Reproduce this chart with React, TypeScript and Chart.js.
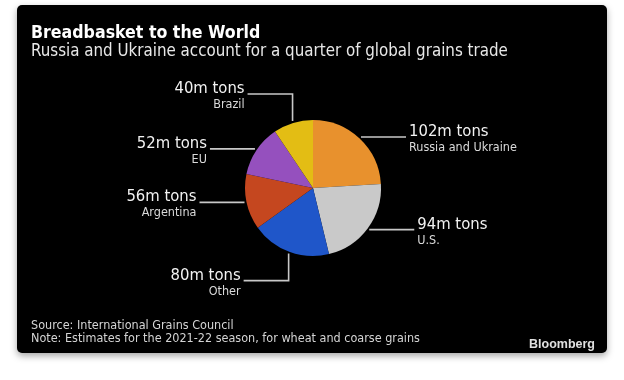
import React, { useEffect, useRef } from 'react';
import { Chart, registerables } from 'chart.js';

Chart.register(...registerables);

const categories = ['Russia and Ukraine', 'U.S.', 'Other', 'Argentina', 'EU', 'Brazil'];
const values = [102, 94, 80, 56, 52, 40];
const unit = 'm tons';
const sliceColors = ['#E8912D', '#C9C9C9', '#1F56C9', '#C5471F', '#9550BE', '#E3BD14'];
const title = 'Breadbasket to the World';
const subtitle = 'Russia and Ukraine account for a quarter of global grains trade';
const sourceNote = 'Source: International Grains Council';
const footNote = 'Note: Estimates for the 2021-22 season, for wheat and coarse grains';
const brand = 'Bloomberg';

const FONT = '"DejaVu Sans Condensed", "DejaVu Sans", sans-serif';

const textPlugin = {
  id: 'bbText',
  afterDraw(chart: any) {
    const ctx = chart.ctx as CanvasRenderingContext2D;
    ctx.save();
    ctx.textBaseline = 'alphabetic';
    ctx.textAlign = 'left';
    ctx.fillStyle = '#ffffff';
    ctx.font = `bold 17.6px ${FONT}`;
    ctx.fillText(title, 31, 38);
    ctx.fillStyle = '#e8e8e8';
    ctx.font = `16.8px ${FONT}`;
    ctx.fillText(subtitle, 31, 56);
    ctx.fillStyle = '#d4d4d4';
    ctx.font = `12.5px ${FONT}`;
    ctx.fillText(sourceNote, 31, 329);
    ctx.fillText(footNote, 31, 342);
    ctx.textAlign = 'right';
    ctx.fillStyle = '#e0e0e0';
    ctx.font = `bold 12.5px "Liberation Sans", Arial, sans-serif`;
    ctx.fillText(brand, 595, 348);
    ctx.restore();
  },
};

const leaderPlugin = {
  id: 'leaders',
  afterDatasetsDraw(chart: any) {
    const ctx = chart.ctx as CanvasRenderingContext2D;
    const meta = chart.getDatasetMeta(0);
    ctx.save();
    ctx.strokeStyle = '#c8c8c8';
    ctx.lineWidth = 1.6;
    meta.data.forEach((arc: any, i: number) => {
      const { x, y, startAngle, endAngle, outerRadius } = arc.getProps(
        ['x', 'y', 'startAngle', 'endAngle', 'outerRadius'],
        true
      );
      const mid = (startAngle + endAngle) / 2;
      const c = Math.cos(mid);
      const s = Math.sin(mid);
      const r = outerRadius + 2;
      const px = x + c * r;
      let py = y + s * r;
      ctx.beginPath();
      ctx.moveTo(px, py);
      if (Math.abs(c) < 0.5) {
        py = py + Math.sign(s) * 27;
        ctx.lineTo(px, py);
      }
      const dir = c >= 0 ? 1 : -1;
      const ex = px + dir * 45;
      ctx.lineTo(ex, py);
      ctx.stroke();
      const tx = ex + dir * 3;
      ctx.textAlign = dir > 0 ? 'left' : 'right';
      ctx.textBaseline = 'alphabetic';
      ctx.font = `16.5px ${FONT}`;
      ctx.fillStyle = '#f2f2f2';
      ctx.fillText(`${values[i]}${unit}`, tx, py - 1);
      ctx.font = `12.5px ${FONT}`;
      ctx.fillStyle = '#dadada';
      ctx.fillText(categories[i], tx, py + 14);
    });
    ctx.restore();
  },
};

export default function App() {
  const ref = useRef<HTMLCanvasElement | null>(null);
  useEffect(() => {
    if (!ref.current) return;
    const chart = new Chart(ref.current, {
      type: 'pie',
      data: {
        labels: categories,
        datasets: [
          {
            data: values,
            backgroundColor: sliceColors,
            borderWidth: 0,
          },
        ],
      },
      options: {
        animation: false,
        responsive: false,
        devicePixelRatio: 1,
        layout: { padding: { left: 245, right: 243, top: 120, bottom: 124 } },
        plugins: {
          legend: { display: false },
          tooltip: { enabled: false },
          title: { display: false },
        },
      },
      plugins: [leaderPlugin, textPlugin],
    });
    return () => chart.destroy();
  }, []);

  return (
    <div
      style={{
        position: 'fixed',
        left: 0,
        top: 0,
        width: 624,
        height: 380,
        background: '#ffffff',
        overflow: 'hidden',
      }}
    >
      <div
        style={{
          position: 'absolute',
          left: 17,
          top: 5,
          width: 590,
          height: 348,
          background: '#000000',
          borderRadius: 5,
          boxShadow: '0 3px 7px rgba(0,0,0,0.35)',
        }}
      />
      <canvas
        ref={ref}
        width={624}
        height={380}
        style={{ position: 'absolute', left: 0, top: 0, width: 624, height: 380 }}
      />
    </div>
  );
}
